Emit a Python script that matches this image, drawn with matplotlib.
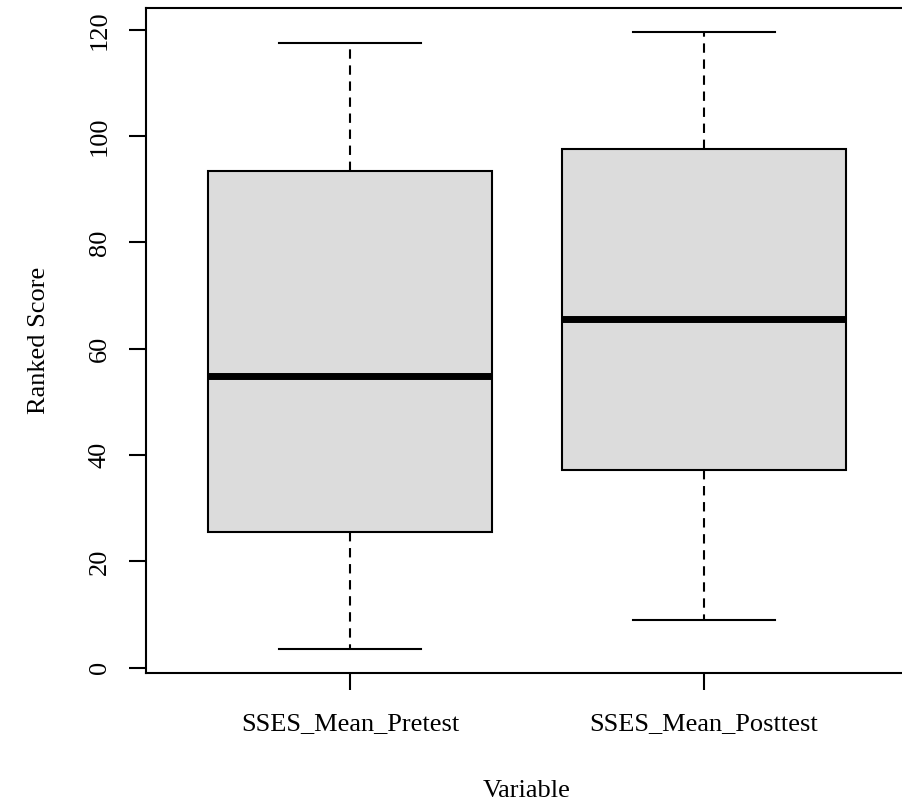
import matplotlib.pyplot as plt

# values (ranked scores)
labels = ["SSES_Mean_Pretest", "SSES_Mean_Posttest"]
whislo = [3.6, 9.0]
q1 = [25.6, 37.1]
med = [54.9, 65.6]
q3 = [93.5, 97.6]
whishi = [117.6, 119.5]
yticks = [0, 20, 40, 60, 80, 100, 120]

plt.rcParams['font.family'] = ['Liberation Serif', 'DejaVu Serif']
plt.rcParams['font.size'] = 19

fig = plt.figure(figsize=(9.02, 8.01), dpi=100)
# right edge of the frame falls just outside the picture, as in the reference
ax = fig.add_axes([146/902, 1 - 673/801, (908 - 146)/902, (673 - 8)/801])

stats = []
for i in range(len(labels)):
    stats.append(dict(label=labels[i], whislo=whislo[i], q1=q1[i], med=med[i],
                      q3=q3[i], whishi=whishi[i], fliers=[]))

ax.bxp(stats, positions=[1, 2], widths=0.8, patch_artist=True,
       showfliers=False,
       boxprops=dict(facecolor="#dcdcdc", edgecolor="black", linewidth=1.5),
       medianprops=dict(color="black", linewidth=5, solid_capstyle="butt"),
       whiskerprops=dict(color="black", linewidth=1.5, linestyle=(0, (4.5, 3.2))),
       capprops=dict(color="black", linewidth=1.5),
       capwidths=0.4)

ax.set_xlim(0.424, 2.576)
ax.set_ylim(-1.0, 124.1)
ax.set_yticks(yticks)
ax.set_yticklabels([str(v) for v in yticks], rotation=90, va="center")

for side in ["left", "bottom", "top", "right"]:
    ax.spines[side].set_linewidth(1.5)
ax.tick_params(axis="both", length=12.5, width=1.5, direction="out")
ax.tick_params(axis="x", pad=16)
ax.tick_params(axis="y", pad=13)

ax.set_xlabel("Variable", labelpad=33)
ax.set_ylabel("Ranked Score", labelpad=28)

fig.savefig("out.png", dpi=100)
